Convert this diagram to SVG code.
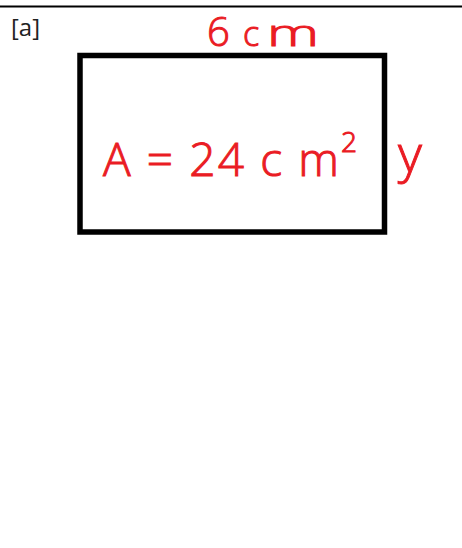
<svg xmlns="http://www.w3.org/2000/svg" width="462" height="548" viewBox="0 0 462 548">
<style>
.hw{font-family:"Open Sans","Liberation Sans",sans-serif;fill:#ea1c24;stroke:#ea1c24;stroke-width:1;font-weight:300}
.lbl{font-family:"Open Sans","Liberation Sans",sans-serif;fill:#222;font-size:24px}
</style>
<rect width="462" height="548" fill="#fff"/>
<line x1="0" y1="6.5" x2="462" y2="6.5" stroke="#000" stroke-width="2"/>
<text class="lbl" x="11" y="36">[a]</text>
<g id="rectangle">
<rect x="80" y="55.5" width="304.5" height="176.5" fill="none" stroke="#000" stroke-width="5.5"/>
<text class="hw" x="103" y="176" font-size="46" letter-spacing="4" textLength="258" lengthAdjust="spacing">A = 24 c m<tspan font-size="28" dy="-24">2</tspan></text>
</g>
<text class="hw" y="46" font-size="40"><tspan x="207">6</tspan><tspan x="243" font-size="34">c</tspan><tspan x="267" font-size="36" textLength="52" lengthAdjust="spacingAndGlyphs">m</tspan></text>
<text class="hw" x="398" y="172" font-size="52">y</text>
</svg>
